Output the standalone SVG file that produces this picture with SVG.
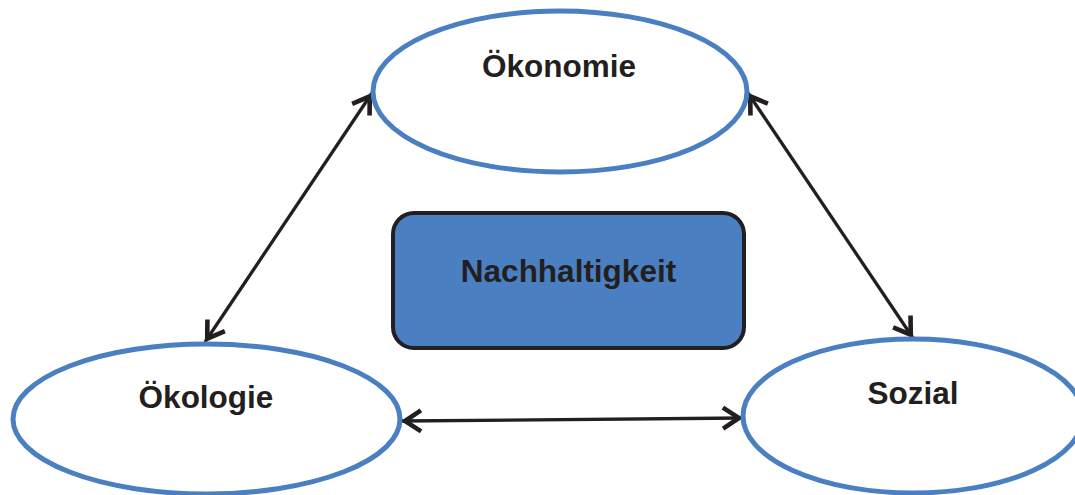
<svg xmlns="http://www.w3.org/2000/svg" width="1075" height="495" viewBox="0 0 1075 495">
  <style>
    .pillar { fill: #ffffff; stroke: #4a7fc1; stroke-width: 5; }
    .core { fill: #4a7fc1; stroke: #231f20; stroke-width: 4; }
    .label { font-family: "Liberation Sans", Arial, sans-serif; font-weight: bold; font-size: 31.5px; fill: #231f20; text-anchor: middle; }
    .link { stroke: #231f20; stroke-width: 3.3; fill: none; marker-start: url(#chevron); marker-end: url(#chevron); }
  </style>
  <defs>
    <marker id="chevron" markerUnits="userSpaceOnUse" markerWidth="30" markerHeight="30" viewBox="-25 -15 30 30" refX="0" refY="0" orient="auto-start-reverse" overflow="visible">
      <path d="M -20 -10.5 L -4 0 L -20 10.5" fill="none" stroke="#231f20" stroke-width="4.6" stroke-linejoin="miter" stroke-miterlimit="10"/>
    </marker>
  </defs>

  <!-- connectors between the three pillars -->
  <g id="connectors">
    <line class="link" x1="372" y1="93" x2="205" y2="342"/>
    <line class="link" x1="748" y1="93" x2="913" y2="338"/>
    <line class="link" x1="401" y1="421" x2="743" y2="418"/>
  </g>

  <g id="oekonomie">
    <ellipse class="pillar" cx="560" cy="91.5" rx="187" ry="80.5"/>
    <text class="label" x="559" y="77">Ökonomie</text>
  </g>

  <g id="oekologie">
    <ellipse class="pillar" cx="206.5" cy="419" rx="193.5" ry="75"/>
    <text class="label" x="206" y="408">Ökologie</text>
  </g>

  <g id="sozial">
    <ellipse class="pillar" cx="913" cy="416" rx="170" ry="77"/>
    <text class="label" x="913" y="404">Sozial</text>
  </g>

  <g id="nachhaltigkeit">
    <rect class="core" x="393" y="213" width="351" height="135" rx="21" ry="21"/>
    <text class="label" x="568.5" y="282">Nachhaltigkeit</text>
  </g>
</svg>
